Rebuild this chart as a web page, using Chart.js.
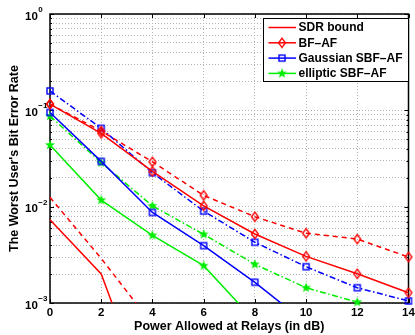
<!DOCTYPE html>
<html><head><meta charset="utf-8">
<script src="https://cdn.jsdelivr.net/npm/chart.js@4"></script>
<style>html,body{margin:0;padding:0;background:#fff;}canvas{display:block;}</style>
</head><body>
<canvas id="c" width="415" height="335"></canvas>
<script>
// ---- data ----
const powerDb = [0, 2, 4, 6, 8, 10, 12, 14];
const xTickStep = 2;
const yDecades = [1e-3, 1e-2, 1e-1, 1];
const yDecadeExponents = ['\u22123', '\u22122', '\u22121', '0'];
const legendNames = ['SDR bound', 'BF\u2013AF', 'Gaussian SBF\u2013AF', 'elliptic SBF\u2013AF'];
const xTitle = 'Power Allowed at Relays (in dB)';
const yTitle = "The Worst User's Bit Error Rate";

const sdrBoundSolid  = [0.0073, 0.0020, 0.000074];
const sdrBoundDashed = [0.0125, 0.0029, 0.00060];
const bfAfSolid      = [0.116, 0.0577, 0.0232, 0.0102, 0.0052, 0.00305, 0.00201, 0.00128];
const bfAfDashed     = [0.116, 0.061, 0.0292, 0.0131, 0.00787, 0.00529, 0.00461, 0.0030];
const gaussSolid     = [0.095, 0.0295, 0.0087, 0.00394, 0.00164, 0.00062];
const gaussDashDot   = [0.159, 0.065, 0.0225, 0.0090, 0.00427, 0.00238, 0.00144, 0.00105];
const ellipSolid     = [0.0437, 0.0117, 0.00504, 0.00244, 0.00065];
const ellipDashDot   = [0.0872, 0.0286, 0.0102, 0.00516, 0.00252, 0.00144, 0.00102];

// ---- styles ----
const RED = '#ff0000', BLUE = '#0000ff', GREEN = '#00ee00';
const FONT = '"Liberation Sans", Arial, sans-serif';
const DASH = [5, 4];
const DASHDOT = [6, 2.5, 1.5, 2.5];

function makeMarker(kind, color) {
  const c = document.createElement('canvas');
  c.width = 12; c.height = 12;
  const g = c.getContext('2d');
  g.strokeStyle = color; g.fillStyle = color; g.lineWidth = 1.4;
  const cx = 6, cy = 6;
  if (kind === 'diamond') {
    g.beginPath(); g.moveTo(cx, cy - 4.6); g.lineTo(cx + 3.4, cy); g.lineTo(cx, cy + 4.6); g.lineTo(cx - 3.4, cy); g.closePath(); g.stroke();
  } else if (kind === 'square') {
    g.strokeRect(cx - 3, cy - 3, 6, 6);
  } else if (kind === 'star') {
    g.beginPath();
    for (let i = 0; i < 10; i++) {
      const r = i % 2 === 0 ? 5.2 : 2.2;
      const a = -Math.PI / 2 + i * Math.PI / 5;
      const px = cx + r * Math.cos(a), py = cy + r * Math.sin(a);
      if (i === 0) g.moveTo(px, py); else g.lineTo(px, py);
    }
    g.closePath(); g.fill();
  }
  return c;
}
const diamondRed = makeMarker('diamond', RED);
const squareBlue = makeMarker('square', BLUE);
const starGreen = makeMarker('star', GREEN);

function pts(vals) { return vals.map((v, i) => ({ x: powerDb[i], y: v })); }
const clipAll = { left: 10, right: 10, top: 10, bottom: 10 };
const clipLow = { left: 10, right: 10, top: 10, bottom: 0 };

function ds(label, vals, color, dash, marker, clip) {
  return {
    label, data: pts(vals), borderColor: color, borderWidth: 1.5, borderDash: dash,
    pointStyle: marker || 'circle', pointRadius: marker ? 5 : 0, pointHoverRadius: 0,
    backgroundColor: 'transparent', tension: 0, clip
  };
}

const datasets = [
  ds(legendNames[0], sdrBoundSolid, RED, [], null, clipLow),
  ds(legendNames[0], sdrBoundDashed, RED, DASH, null, clipLow),
  ds(legendNames[1], bfAfDashed, RED, DASH, diamondRed, clipAll),
  ds(legendNames[1], bfAfSolid, RED, [], diamondRed, clipAll),
  ds(legendNames[2], gaussDashDot, BLUE, DASHDOT, squareBlue, clipAll),
  ds(legendNames[2], gaussSolid, BLUE, [], squareBlue, clipLow),
  ds(legendNames[3], ellipDashDot, GREEN, DASHDOT, starGreen, clipAll),
  ds(legendNames[3], ellipSolid, GREEN, [], starGreen, clipLow),
];

const legendEntries = [
  { name: legendNames[0], color: RED, marker: null },
  { name: legendNames[1], color: RED, marker: diamondRed },
  { name: legendNames[2], color: BLUE, marker: squareBlue },
  { name: legendNames[3], color: GREEN, marker: starGreen },
];

const framePlugin = {
  id: 'frame',
  beforeDatasetsDraw(chart) {
    const { ctx, chartArea: a, scales } = chart;
    ctx.save();
    ctx.strokeStyle = '#000';
    ctx.lineWidth = 1;
    ctx.beginPath();
    scales.x.ticks.forEach(t => {
      const x = Math.round(scales.x.getPixelForValue(t.value)) + 0.5;
      ctx.moveTo(x, a.bottom); ctx.lineTo(x, a.bottom - 4);
      ctx.moveTo(x, a.top); ctx.lineTo(x, a.top + 4);
    });
    scales.y.ticks.forEach(t => {
      const y = Math.round(scales.y.getPixelForValue(t.value)) + 0.5;
      const len = t.major ? 4 : 2;
      ctx.moveTo(a.left, y); ctx.lineTo(a.left + len, y);
      ctx.moveTo(a.right, y); ctx.lineTo(a.right - len, y);
    });
    ctx.stroke();
    ctx.lineWidth = 1.5;
    ctx.strokeRect(a.left, a.top, a.right - a.left, a.bottom - a.top);
    ctx.restore();
  },
  afterDraw(chart) {
    const { ctx, scales } = chart;
    ctx.save();
    ctx.fillStyle = '#000';
    ctx.textAlign = 'left';
    ctx.textBaseline = 'alphabetic';
    yDecades.forEach((v, i) => {
      const y = scales.y.getPixelForValue(v);
      const x0 = 25;
      ctx.font = 'bold 11.5px ' + FONT;
      ctx.fillText('10', x0, y + 5.5);
      const w = ctx.measureText('10').width;
      ctx.font = 'bold 8px ' + FONT;
      ctx.fillText(yDecadeExponents[i], x0 + w + 0.5, y - 2);
    });
    const L = 263.5, T = 18.5, R = 408.5, B = 81.5;
    ctx.fillStyle = '#fff';
    ctx.fillRect(L, T, R - L, B - T);
    ctx.strokeStyle = '#000'; ctx.lineWidth = 1;
    ctx.strokeRect(L, T, R - L, B - T);
    ctx.font = 'bold 12px ' + FONT;
    ctx.textBaseline = 'middle';
    legendEntries.forEach((e, i) => {
      const y = 27.5 + i * 15.3;
      ctx.strokeStyle = e.color; ctx.lineWidth = 1.5;
      ctx.beginPath(); ctx.moveTo(268.5, y); ctx.lineTo(296, y); ctx.stroke();
      if (e.marker) ctx.drawImage(e.marker, 282 - e.marker.width / 2, y - e.marker.height / 2);
      ctx.fillStyle = '#000';
      ctx.fillText(e.name, 298.5, y + 0.5);
    });
    ctx.restore();
  }
};

new Chart(document.getElementById('c'), {
  type: 'line',
  data: { datasets },
  options: {
    responsive: false, animation: false, devicePixelRatio: 1, events: [],
    layout: { padding: { top: 14, right: 1, left: 0, bottom: 0 } },
    plugins: { legend: { display: false }, tooltip: { enabled: false } },
    scales: {
      x: {
        type: 'linear', min: powerDb[0], max: powerDb[powerDb.length - 1],
        ticks: { stepSize: xTickStep, color: '#000', font: { family: FONT, weight: 'bold', size: 11.5 }, padding: 3, maxRotation: 0 },
        grid: { color: '#b4b4b4', lineWidth: 1, drawTicks: false },
        border: { display: false, dash: [1, 2] },
        title: { display: true, text: xTitle, color: '#000', font: { family: FONT, weight: 'bold', size: 12.5 }, padding: { top: 0, bottom: 1 } },
        afterFit(s) { s.height = 32; s.paddingLeft = 0; s.paddingRight = 0; }
      },
      y: {
        type: 'logarithmic', min: yDecades[0], max: yDecades[yDecades.length - 1],
        ticks: { display: false, autoSkip: false },
        grid: { color: '#b4b4b4', lineWidth: 1, drawTicks: false },
        border: { display: false, dash: [1, 2] },
        title: { display: true, text: yTitle, color: '#000', font: { family: FONT, weight: 'bold', size: 12.5 }, padding: { top: 7, bottom: 0 } },
        afterBuildTicks(scale) {
          const t = [];
          for (let d = 0; d < yDecades.length; d++) {
            const base = yDecades[d];
            if (d === yDecades.length - 1) { t.push({ value: base, major: true }); break; }
            for (let m = 1; m <= 9; m++) t.push({ value: base * m, major: m === 1 });
          }
          scale.ticks = t;
        },
        afterFit(s) { s.width = 50; s.paddingTop = 0; s.paddingBottom = 0; }
      }
    }
  },
  plugins: [framePlugin]
});
</script>
</body></html>
